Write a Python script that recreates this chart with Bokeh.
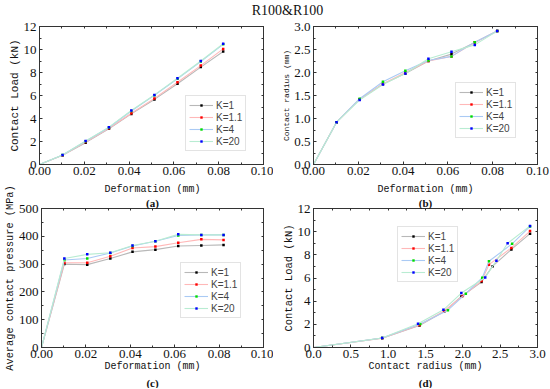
import numpy as np
from bokeh.plotting import figure
from bokeh.layouts import column, row
from bokeh.models import (Range1d, SingleIntervalTicker, LinearAxis, PrintfTickFormatter,
                          Legend, LegendItem, Title, FixedTicker)
from bokeh.embed import file_html
from bokeh.resources import INLINE
from bokeh.core.properties import value

# ---------------- data ----------------
chart_title = "R100&R100"
k_labels = ["K=1", "K=1.1", "K=4", "K=20"]
deformation = [0, 0.0103, 0.0206, 0.031, 0.041, 0.0513, 0.0616, 0.072, 0.082]

load_k1 = [0, 0.81, 1.90, 3.10, 4.40, 5.66, 7.02, 8.47, 9.83]
load_k1_1 = [0, 0.80, 1.95, 3.15, 4.45, 5.75, 7.15, 8.60, 10.05]
load_k4 = [0, 0.82, 2.02, 3.22, 4.65, 6.02, 7.45, 8.95, 10.45]
load_k20 = [0, 0.82, 2.05, 3.25, 4.70, 6.05, 7.50, 9.00, 10.50]

radius_k1 = [0, 0.92, 1.42, 1.75, 1.98, 2.25, 2.40, 2.65, 2.90]
radius_k1_1 = [0, 0.92, 1.42, 1.75, 2.00, 2.25, 2.35, 2.65, 2.90]
radius_k4 = [0, 0.92, 1.43, 1.80, 2.04, 2.26, 2.35, 2.66, 2.90]
radius_k20 = [0, 0.92, 1.40, 1.74, 1.98, 2.30, 2.45, 2.60, 2.90]

pressure_k1 = [0, 300, 298, 320, 344, 352, 365, 367, 369]
pressure_k1_1 = [0, 305, 305, 328, 358, 363, 377, 389, 387]
pressure_k4 = [0, 315, 320, 340, 365, 382, 403, 405, 405]
pressure_k20 = [0, 320, 335, 341, 367, 382, 407, 405, 405]

loads = [load_k1, load_k1_1, load_k4, load_k20]
radii = [radius_k1, radius_k1_1, radius_k4, radius_k20]
pressures = [pressure_k1, pressure_k1_1, pressure_k4, pressure_k20]

# ---------------- styles ----------------
line_colors = ["#b8b8b8", "#ffb8b8", "#aacaf4", "#b8ecd2"]
marker_colors = ["#000000", "#ff0000", "#00dd00", "#0000ff"]
TICK_FONT = "Liberation Serif"
LABEL_FONT = "Liberation Mono"
AX_COLOR = "#333333"


def tickless_axis(lo, hi, step):
    minor = list(np.round(np.arange(lo, hi + step / 4, step / 2), 6))
    return LinearAxis(ticker=FixedTicker(ticks=[], minor_ticks=minor),
                      major_label_standoff=0, major_tick_in=0, major_tick_out=0,
                      minor_tick_in=2, minor_tick_out=0,
                      axis_line_color=AX_COLOR, minor_tick_line_color=AX_COLOR)


def make_fig(w, h, xr, yr, xint, yint, xfmt, yfmt, ylabel, ylabel_size,
             bl, br, bt, bb, xlabel=None, sub_below=None, above_texts=()):
    p = figure(width=w, height=h, x_range=Range1d(*xr), y_range=Range1d(*yr),
               toolbar_location=None, output_backend="svg", title=None,
               min_border_left=bl, min_border_right=br,
               min_border_top=bt, min_border_bottom=bb,
               outline_line_color=AX_COLOR, outline_line_width=1,
               background_fill_color="white", border_fill_color="white")
    p.grid.visible = False
    xa = p.xaxis[0]
    ya = p.yaxis[0]
    xa.ticker = SingleIntervalTicker(interval=xint, num_minor_ticks=2)
    ya.ticker = SingleIntervalTicker(interval=yint, num_minor_ticks=2)
    xa.formatter = PrintfTickFormatter(format=xfmt)
    ya.formatter = PrintfTickFormatter(format=yfmt)
    for ax in (xa, ya):
        ax.axis_line_color = AX_COLOR
        ax.major_tick_line_color = AX_COLOR
        ax.minor_tick_line_color = AX_COLOR
        ax.major_tick_in = 3
        ax.major_tick_out = 0
        ax.minor_tick_in = 2
        ax.minor_tick_out = 0
        ax.major_label_text_font = TICK_FONT
        ax.major_label_text_font_size = "13px"
        ax.major_label_text_color = "#111111"
        ax.major_label_standoff = 2
        ax.axis_label_text_font = LABEL_FONT
        ax.axis_label_text_font_style = "normal"
        ax.axis_label_text_color = "#111111"
        ax.axis_label_standoff = 0
    ya.major_label_standoff = 3
    if xlabel:
        xa.axis_label = xlabel
        xa.axis_label_text_font_size = "10px"
    ya.axis_label = ylabel
    ya.axis_label_text_font_size = ylabel_size

    p.add_layout(tickless_axis(yr[0], yr[1], yint), "right")
    p.add_layout(tickless_axis(xr[0], xr[1], xint), "above")

    # texts stacked above the frame (first is closest to the frame)
    for txt, font, size, style in above_texts:
        p.add_layout(Title(text=txt, align="center", text_font=font,
                           text_font_size=size, text_font_style=style,
                           text_color="#111111", standoff=0, offset=0), "above")
    if sub_below:
        p.add_layout(Title(text=sub_below, align="center", text_font=TICK_FONT,
                           text_font_size="11px", text_font_style="bold",
                           text_color="#111111", standoff=0, offset=0), "below")
    return p


def add_series(p, xs_list, ys_list, legend_loc):
    items = []
    for lab, xs, ys, lc, mc in zip(k_labels, xs_list, ys_list, line_colors, marker_colors):
        lr = p.line(xs, ys, line_color=lc, line_width=1.1)
        sr = p.scatter(xs[1:], ys[1:], marker="square", size=2.5, fill_color=mc,
                       line_color=None)
        items.append(LegendItem(label=lab, renderers=[lr, sr]))
    leg = Legend(items=items, location=legend_loc,
                 border_line_color="#c8c8c8", border_line_width=1,
                 background_fill_color="white", background_fill_alpha=1,
                 label_text_font="Liberation Sans", label_text_font_size="10px",
                 label_height=12, glyph_height=6, glyph_width=24,
                 label_standoff=3, spacing=0, padding=3, margin=0)
    p.add_layout(leg)


W1, W2 = 273, 276
H0, H1, H2 = 20, 160, 208

pa = make_fig(W1, H1, (0, 0.1), (0, 12), 0.02, 2, "%.2f", "%d",
              "Contact Load (kN)", "11px", 39, 10, 6, 16)
add_series(pa, [deformation] * 4, loads, (146, 13))

pb = make_fig(W2, H1, (0, 0.1), (0, 3.0), 0.02, 0.5, "%.2f", "%.1f",
              "Contact radius (mm)", "8px", 40, 12, 6, 16)
add_series(pb, [deformation] * 4, radii, (142, 26))

pc = make_fig(W1, H2, (0, 0.1), (0, 500), 0.02, 100, "%.2f", "%d",
              "Average contact pressure (MPa)", "10.3px", 39, 10, 28, 41,
              xlabel="Deformation (mm)", sub_below="(c)",
              above_texts=[("(a)", TICK_FONT, "11px", "bold"),
                           ("Deformation (mm)", LABEL_FONT, "10px", "normal")])
add_series(pc, [deformation] * 4, pressures, (139, 29))

pd_ = make_fig(W2, H2, (0, 3.0), (0, 12), 0.5, 2, "%.1f", "%d",
               "Contact Load (kN)", "10.5px", 40, 12, 28, 41,
               xlabel="Contact radius (mm)", sub_below="(d)",
               above_texts=[("(b)", TICK_FONT, "11px", "bold"),
                            ("Deformation (mm)", LABEL_FONT, "10px", "normal")])
add_series(pd_, radii, loads, (84, 65))

tp = figure(width=W1 + W2, height=H0, x_range=Range1d(0, W1 + W2), y_range=Range1d(0, H0),
            toolbar_location=None, output_backend="svg", min_border=0,
            x_axis_location=None, y_axis_location=None, outline_line_color=None)
tp.grid.visible = False
tp.text(x=[287], y=[H0 / 2], text=[chart_title], text_align="center",
        text_baseline="middle", text_font=value("Liberation Serif"),
        text_font_size="14px", text_color="#111111")

layout = column(tp, row(pa, pb), row(pc, pd_))
open("out.html", "w").write(file_html(layout, INLINE))
